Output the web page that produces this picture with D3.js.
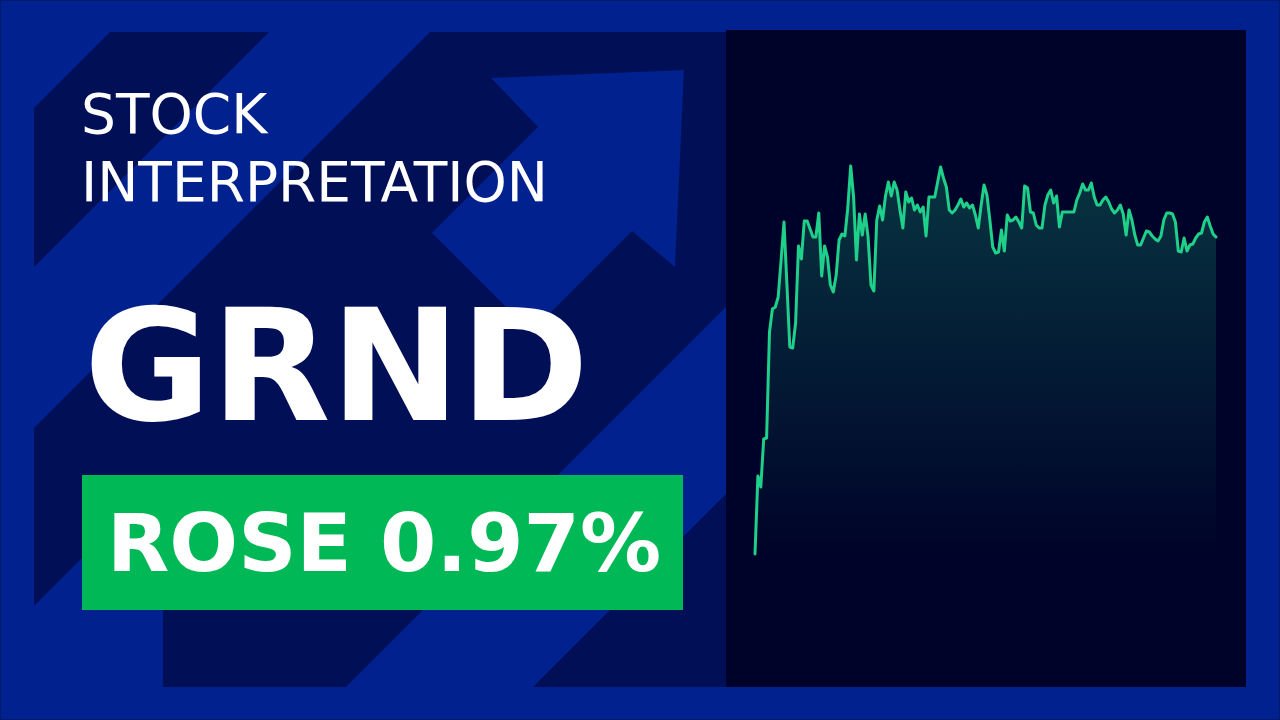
<!DOCTYPE html>
<html>
<head>
<meta charset="utf-8">
<script src="https://cdn.jsdelivr.net/npm/d3@7/dist/d3.min.js"></script>
<style>
  html, body { margin: 0; padding: 0; background: #00218e; }
  svg { display: block; }
</style>
</head>
<body>
<svg id="chart" width="1280" height="720"></svg>
<script>
// ---- data ----
const ticker = "GRND";
const headline = ["STOCK", "INTERPRETATION"];
const changeLabel = "ROSE 0.97%";
const prices = [
  10.46, 11.24, 11.13, 11.61, 11.62, 12.68, 12.91, 12.93, 13.03, 13.40,
  13.78, 13.16, 12.53, 12.52, 12.77, 13.54, 13.41, 13.79, 13.79, 13.71,
  13.63, 13.63, 13.87, 13.24, 13.54, 13.43, 13.15, 13.08, 13.25, 13.60,
  13.66, 13.64, 13.92, 14.34, 14.03, 13.40, 13.86, 13.65, 13.86, 13.63,
  13.15, 13.09, 13.80, 13.94, 13.80, 14.04, 14.18, 14.04, 14.18, 14.10,
  13.90, 13.72, 14.08, 13.98, 14.02, 13.90, 13.95, 13.88, 13.93, 13.64,
  14.03, 14.03, 14.03, 14.18, 14.33, 14.22, 14.13, 13.90, 13.87, 13.90,
  13.95, 14.01, 13.93, 13.97, 13.92, 13.95, 13.85, 13.72, 13.95, 14.15,
  14.05, 13.80, 13.53, 13.47, 13.48, 13.70, 13.49, 13.85, 13.79, 13.80,
  13.83, 13.78, 13.72, 14.14, 14.12, 13.88, 13.87, 13.75, 13.72, 13.72,
  13.95, 14.05, 14.10, 13.97, 14.04, 13.73, 13.88, 13.88, 13.88, 13.88,
  13.88, 14.00, 14.07, 14.16, 14.10, 14.10, 14.17, 14.03, 13.95, 13.95,
  14.00, 14.03, 13.98, 13.91, 13.87, 13.90, 13.95, 13.86, 13.65, 13.90,
  13.80, 13.65, 13.55, 13.55, 13.62, 13.69, 13.68, 13.64, 13.61, 13.59,
  13.64, 13.80, 13.87, 13.87, 13.86, 13.78, 13.49, 13.48, 13.62, 13.49,
  13.55, 13.56, 13.62, 13.66, 13.67, 13.78, 13.83, 13.74, 13.66, 13.63
];

// ---- colours ----
const BLUE = "#00218e", DARK = "#000f56", PANEL = "#000329",
      LINE = "#1fd08b", GREEN = "#00b956";

const svg = d3.select("#chart");
const defs = svg.append("defs");

// background
svg.append("rect").attr("width", 1280).attr("height", 720).attr("fill", BLUE);

defs.append("clipPath").attr("id", "leftClip")
  .append("rect").attr("x", 34).attr("y", 32).attr("width", 693).attr("height", 655);

const bg = svg.append("g").attr("clip-path", "url(#leftClip)");
const poly = (pts, fill) => bg.append("polygon")
  .attr("points", pts.map(p => p.join(",")).join(" ")).attr("fill", fill);

// dark diagonal bands (x+y = const)
poly([[142, 0], [301, 0], [0, 301], [0, 142]], DARK);
poly([[462, 0], [1033, 0], [0, 1033], [0, 462]], DARK);
poly([[1220, 0], [2000, 0], [0, 2000], [0, 1220]], DARK);
// light arrow head + shaft
poly([[491, 78], [684, 70], [675, 267], [632, 231], [531, 332], [432, 233], [538, 127]], BLUE);
// light lower-left corner
poly([[34, 606], [163, 477], [163, 690], [34, 690]], BLUE);

// outer thin border
svg.append("rect").attr("x", 0.5).attr("y", 0.5).attr("width", 1279).attr("height", 719)
  .attr("fill", "none").attr("stroke", "#001a70").attr("stroke-width", 1);

// ---- text ----
const font = "'DejaVu Sans', sans-serif";
svg.append("text").attr("x", 81).attr("y", 133).text(headline[0])
  .attr("fill", "#fff").attr("font-family", font).attr("font-size", 55);
svg.append("text").attr("x", 81).attr("y", 201).text(headline[1])
  .attr("fill", "#fff").attr("font-family", font).attr("font-size", 55);
svg.append("text").attr("x", 84).attr("y", 420).text(ticker)
  .attr("fill", "#fff").attr("font-family", font).attr("font-weight", "bold").attr("font-size", 155);

svg.append("rect").attr("x", 82).attr("y", 475).attr("width", 601).attr("height", 135).attr("fill", GREEN);
svg.append("text").attr("x", 384).attr("y", 571).attr("text-anchor", "middle").text(changeLabel)
  .attr("fill", "#fff").attr("font-family", font).attr("font-weight", "bold").attr("font-size", 81);

// ---- chart panel ----
svg.append("rect").attr("x", 726).attr("y", 30).attr("width", 520).attr("height", 657).attr("fill", PANEL);

const x = d3.scaleLinear().domain([0, prices.length - 1]).range([755, 1216]);
const y = d3.scaleLinear().domain(d3.extent(prices)).range([554, 166]);

const grad = defs.append("linearGradient").attr("id", "areaGrad")
  .attr("gradientUnits", "userSpaceOnUse").attr("x1", 0).attr("x2", 0).attr("y1", 166).attr("y2", 554);
grad.append("stop").attr("offset", "0%").attr("stop-color", LINE).attr("stop-opacity", 0.24);
grad.append("stop").attr("offset", "100%").attr("stop-color", LINE).attr("stop-opacity", 0);

const area = d3.area().x((d, i) => x(i)).y0(y.range()[0]).y1(d => y(d));
const line = d3.line().x((d, i) => x(i)).y(d => y(d));

svg.append("path").datum(prices).attr("d", area).attr("fill", "url(#areaGrad)");
svg.append("path").datum(prices).attr("d", line).attr("fill", "none")
  .attr("stroke", LINE).attr("stroke-width", 3).attr("stroke-linejoin", "round").attr("stroke-linecap", "round");
</script>
</body>
</html>
